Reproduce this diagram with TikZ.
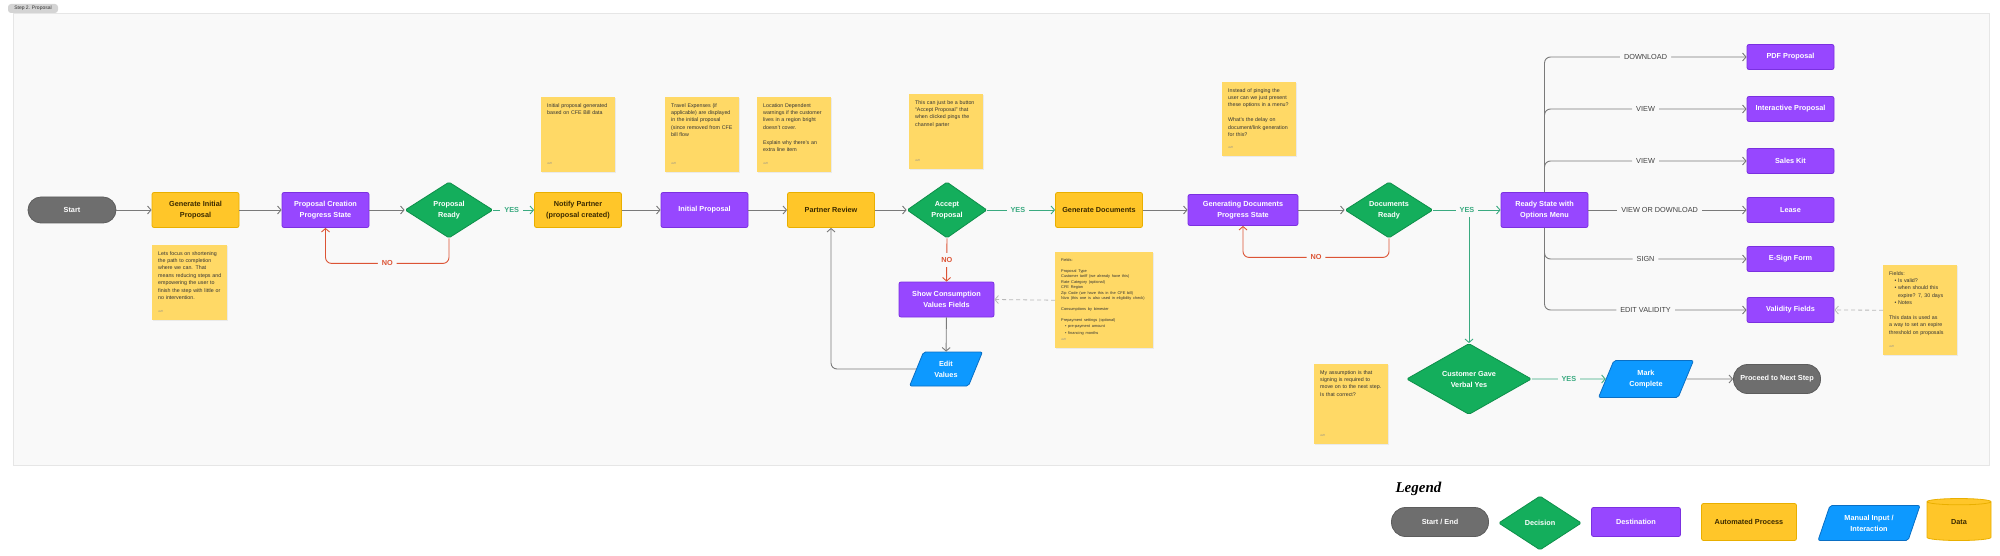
\documentclass[tikz,border=0pt]{standalone}
\usepackage{fontspec}
\setmainfont{Liberation Sans}
\newfontfamily\handfont{Liberation Serif}
\usetikzlibrary{positioning,shapes.geometric,arrows.meta,shadows}
\hyphenpenalty=10000
\exhyphenpenalty=10000

% colours
\definecolor{panelbg}{HTML}{F9F9F9}
\definecolor{panelline}{HTML}{E6E6E6}
\definecolor{termgray}{HTML}{6E6E6E}
\definecolor{autoyellow}{HTML}{FFC629}
\definecolor{autoedge}{HTML}{E9AF00}
\definecolor{autotext}{HTML}{3B2A00}
\definecolor{destpurple}{HTML}{9747FF}
\definecolor{destedge}{HTML}{7B30E0}
\definecolor{decgreen}{HTML}{14AE5C}
\definecolor{decedge}{HTML}{0E8F4A}
\definecolor{inputblue}{HTML}{0D99FF}
\definecolor{inputedge}{HTML}{0A6FC4}
\definecolor{stickyyellow}{HTML}{FFD966}
\definecolor{flowgray}{HTML}{7A7A7A}
\definecolor{yesgreen}{HTML}{3AAA80}
\definecolor{nored}{HTML}{DC5435}

\tikzset{
  box/.style={rectangle, rounded corners=2pt, minimum width=87pt, minimum height=35pt,
    align=center, font=\fontsize{7.3}{11}\selectfont\bfseries, line width=0.8pt},
  terminal/.style={box, rounded corners=13pt, fill=termgray, draw=termgray!85!black,
    text=white, minimum width=88pt, minimum height=26pt},
  automated/.style={box, fill=autoyellow, draw=autoedge, text=autotext},
  destination/.style={box, fill=destpurple, draw=destedge, text=white},
  decision/.style={diamond, aspect=1.6, inner sep=0pt, rounded corners=1.5pt,
    fill=decgreen, draw=decedge, text=white, minimum width=88pt, minimum height=56pt,
    align=center, font=\fontsize{7.3}{11}\selectfont\bfseries, line width=0.8pt},
  manual/.style={trapezium, trapezium left angle=67, trapezium right angle=113,
    trapezium stretches=true, rounded corners=2pt, fill=inputblue, draw=inputedge,
    text=white, minimum width=73pt, minimum height=34pt, inner sep=1pt,
    align=center, font=\fontsize{7.3}{11}\selectfont\bfseries, line width=0.8pt},
  sticky/.style={rectangle, anchor=north west, fill=stickyyellow, inner sep=0pt,
    drop shadow={shadow xshift=0.7pt, shadow yshift=-0.9pt, opacity=0.12}},
  notetext/.style={anchor=north west, inner sep=6pt, align=left, text=black!80,
    font=\fontsize{5.3}{7.4}\selectfont},
  notesign/.style={anchor=south west, inner sep=0pt, xshift=6pt, yshift=8pt,
    text=black!45, font=\fontsize{2.8}{3}\selectfont},
  flow/.style={draw=flowgray, line width=0.9pt,
    -{Straight Barb[length=3.5pt,width=8pt]}},
  yesflow/.style={flow, draw=yesgreen},
  noflow/.style={flow, draw=nored, rounded corners=6pt},
  notelink/.style={draw=gray!55, line width=0.8pt, dash pattern=on 4pt off 3pt,
    -{Straight Barb[length=3.5pt,width=8pt]}},
  edgelabel/.style={fill=panelbg, inner sep=4pt, text=black!75,
    font=\fontsize{7.3}{9}\selectfont},
  yeslabel/.style={edgelabel, text=yesgreen, font=\fontsize{7.3}{9}\selectfont\bfseries},
  nolabel/.style={edgelabel, text=nored, font=\fontsize{7.3}{9}\selectfont\bfseries},
  steptag/.style={fill=black!17, rounded corners=3pt, inner sep=1.5pt,
    minimum width=50pt, minimum height=9pt, text=black!80,
    font=\fontsize{5}{6}\selectfont}
}

% sticky note: name, left, top, width, height, text
\newcommand{\stickynote}[6]{%
  \node[sticky, minimum width=#4pt, minimum height=#5pt] (#1) at (#2,#3) {};
  \pgfmathsetmacro{\notewidth}{#4-11}
  \node[notetext, text width=\notewidth pt] at (#1.north west) {#6};
  \node[notesign] at (#1.south west) {Jeff};
}

\begin{document}
\begin{tikzpicture}[x=1pt, y=-1pt]
  \useasboundingbox (0,0) rectangle (2000,556);

  % panel
  \draw[fill=panelbg, draw=panelline, line width=0.8pt] (13,13) rectangle (1989,465);
  \node[steptag] (stepTag) at (33,8.5) {Step 2. Proposal};

  % sticky notes
  \stickynote{noteFocus}{152}{245}{75}{75}{Lets focus on shortening the path to completion where we can. That means reducing steps and empowering the user to finish the step with little or no intervention.}
  \stickynote{noteInitial}{541}{97}{74}{75}{Initial proposal generated based on CFE Bill data}
  \stickynote{noteTravel}{665}{97}{74}{75}{Travel Expenses (if applicable) are displayed in the initial proposal (since removed from CFE bill flow}
  \stickynote{noteLocation}{757}{97}{74}{75}{Location Dependent warnings if the customer lives in a region bright doesn't cover.\\[7.4pt]Explain why there's an extra line item}
  \stickynote{noteButton}{909}{94}{74}{75}{This can just be a button ``Accept Proposal'' that when clicked pings the channel parter}
  \stickynote{noteFields}{1055}{252}{98}{96}{\fontsize{3.9}{5.5}\selectfont Fields:\\[5.5pt]Proposal Type\\Customer tariff (we already have this)\\Rate Category (optional)\\CFE Region\\Zip Code (we have this in the CFE bill)\\Nivo (this one is also used in eligibility check)\\[5.5pt]Consumptions by bimester\\[5.5pt]Prepayment settings (optional)\\\quad\textbullet\ pre-payment amount\\\quad\textbullet\ financing months}
  \stickynote{noteMenu}{1222}{82}{74}{74}{Instead of pinging the user can we just present these options in a menu?\\[7.4pt]What's the delay on document/link generation for this?}
  \stickynote{noteAssume}{1314}{364}{74}{80}{My assumption is that signing is required to move on to the next step. Is that correct?}
  \stickynote{noteValidity}{1883}{265}{74}{90}{Fields:\\\quad\textbullet\ Is valid?\\\quad\textbullet\ when should this\\\quad\phantom{\textbullet\ }expire? 7, 30 days\\\quad\textbullet\ Notes\\[7.4pt]This data is used as a way to set an expire threshold on proposals}

  % main flow
  \node[terminal] (start) at (72,210) {Start};
  \node[automated] (genInitial) at (195.5,210) {Generate Initial\\Proposal};
  \node[destination] (creation) at (325.5,210) {Proposal Creation\\Progress State};
  \node[decision] (propReady) at (449,210) {Proposal\\Ready};
  \node[automated] (notify) at (578,210) {Notify Partner\\(proposal created)};
  \node[destination] (initial) at (704.5,210) {Initial Proposal};
  \node[automated] (review) at (831,210) {Partner Review};
  \node[decision, minimum width=80pt] (accept) at (947,210) {Accept\\Proposal};
  \node[destination, minimum width=95pt] (showCons) at (946.5,299.5) {Show Consumption\\Values Fields};
  \node[manual] (editVals) at (946,369) {Edit\\Values};
  \node[automated] (genDocs) at (1099,210) {Generate Documents};
  \node[destination, minimum width=110pt, minimum height=31pt] (generating) at (1243,210) {Generating Documents\\Progress State};
  \node[decision] (docsReady) at (1389,210) {Documents\\Ready};
  \node[destination] (readyState) at (1544.5,210) {Ready State with\\Options Menu};
  \node[decision, minimum width=125pt, minimum height=71pt] (verbalYes) at (1469,379) {Customer Gave\\Verbal Yes};
  \node[manual, minimum width=95pt, minimum height=37pt] (markDone) at (1646,379) {Mark\\Complete};
  \node[terminal, minimum width=87pt, minimum height=29pt, rounded corners=14pt] (nextStep) at (1777,379) {Proceed to Next Step};
  \coordinate (yesSplit) at (1469,217);

  % connectors
  \draw[flow] (start) -- (genInitial);
  \draw[flow] (genInitial) -- (creation);
  \draw[flow] (creation) -- (propReady);
  \draw[yesflow] (propReady) -- node[yeslabel, pos=0.45] {YES} (notify);
  \draw[noflow] (propReady.south) -- ++(0,25) -| node[nolabel, pos=0.25] {NO} (creation.south);
  \draw[flow] (notify) -- (initial);
  \draw[flow] (initial) -- (review);
  \draw[flow] (review) -- (accept);
  \draw[yesflow] (accept) -- node[yeslabel, pos=0.45] {YES} (genDocs);
  \draw[flow, draw=nored] (accept.south) -- node[nolabel] {NO} (showCons.north);
  \draw[flow] (showCons) -- (editVals);
  \draw[flow, rounded corners=6pt] (editVals.west) -| (review.south);
  \draw[notelink] (noteFields.west) -- (showCons.east);
  \draw[flow] (genDocs) -- (generating);
  \draw[flow] (generating) -- (docsReady);
  \draw[noflow] (docsReady.south) -- ++(0,19) -| node[nolabel, pos=0.25] {NO} (generating.south);
  \draw[yesflow] (yesSplit) -- (verbalYes.north);
  \draw[yesflow] (docsReady) -- node[yeslabel] {YES} (readyState);
  \draw[yesflow] (verbalYes) -- node[yeslabel] {YES} (markDone);
  \draw[flow] (markDone) -- (nextStep);

  % options menu
  \foreach \name/\txt/\lbl/\ypos in {optPdf/PDF Proposal/DOWNLOAD/57, optInteractive/Interactive Proposal/VIEW/109, optKit/Sales Kit/VIEW/161}{
    \node[destination, minimum height=25pt] (\name) at (1790.5,\ypos) {\txt};
    \draw[flow, rounded corners=6pt] (readyState.north) |- node[edgelabel, pos=0.75] {\lbl} (\name.west);
  }
  \node[destination, minimum height=25pt] (optLease) at (1790.5,210) {Lease};
  \draw[flow] (readyState) -- node[edgelabel, pos=0.45] {VIEW OR DOWNLOAD} (optLease);
  \foreach \name/\txt/\lbl/\ypos in {optSign/E-Sign Form/SIGN/259, optValidity/Validity Fields/EDIT VALIDITY/310}{
    \node[destination, minimum height=25pt] (\name) at (1790.5,\ypos) {\txt};
    \draw[flow, rounded corners=6pt] (readyState.south) |- node[edgelabel, pos=0.75] {\lbl} (\name.west);
  }
  \draw[notelink] (noteValidity.west) -- (optValidity.east);

  % legend
  \node[anchor=west, font=\handfont\bfseries\itshape\fontsize{15}{16}\selectfont] (legendTitle) at (1392,489) {Legend};
  \node[terminal, minimum width=97pt, minimum height=29pt, rounded corners=14pt] (legStart) at (1440,522) {Start / End};
  \node[decision, minimum width=83pt, minimum height=54pt] (legDecision) at (1540,523) {Decision};
  \node[destination, minimum width=89pt, minimum height=29pt] (legDest) at (1636,522) {Destination};
  \node[automated, minimum width=95pt, minimum height=37pt] (legAuto) at (1749,522) {Automated Process};
  \node[manual, minimum width=102pt, minimum height=35pt] (legManual) at (1869,523) {Manual Input /\\Interaction};
  \node[cylinder, shape border rotate=90, aspect=0.28, minimum width=64pt, minimum height=42pt,
    fill=autoyellow, draw=autoedge, line width=0.8pt, text=autotext,
    font=\fontsize{7.3}{11}\selectfont\bfseries] (legData) at (1959,522) {Data};
\end{tikzpicture}
\end{document}
